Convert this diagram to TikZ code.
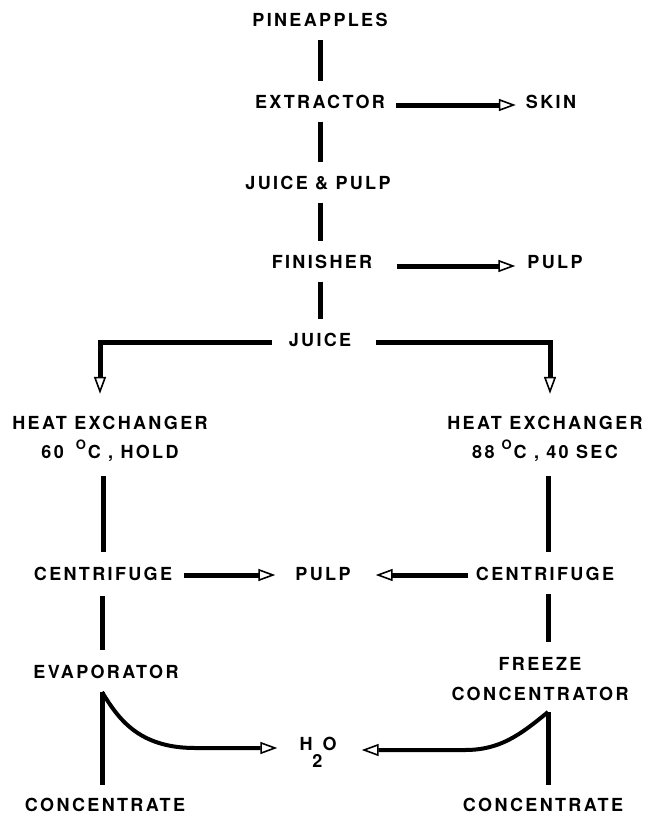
\documentclass[tikz,border=0pt]{standalone}
\usepackage{fontspec}
\setmainfont{TeX Gyre Heros}[LetterSpace=13]
\usetikzlibrary{arrows.meta,calc}
\tikzset{
  flow_t/.style = {inner sep=0pt, font=\fontsize{18}{29}\selectfont\bfseries,
    text height=13pt, text depth=0pt},% one line of text
  flow_m/.style = {inner sep=0pt, align=center,
    font=\fontsize{18}{29.5}\selectfont\bfseries},% two lines of text
  flow_l/.style = {line width=5pt, shorten <=13pt, shorten >=14pt},% plain pipe
  flow_a/.style = {line width=5pt,
    -{Triangle[open, length=17pt, width=12pt, line width=1.6pt 0]}},% stream, open head
  flow_c/.style = {flow_a, line width=4pt}% curved stream
}
\newcommand{\degO}{\raisebox{9pt}{\fontsize{13}{13}\selectfont O}}

\begin{document}
\begin{tikzpicture}[x=1pt, y=-1pt, line join=miter]
\useasboundingbox (0,0) rectangle (648,816);

% main line
\node [flow_t] (pine)  at (320,20)  {PINEAPPLES};
\node [flow_t] (extr)  at (320,102) {EXTRACTOR};
\node [flow_t] (skin)  at (551,102) {SKIN};
\node [flow_t] (jp)    at (318,183) {JUICE \& PULP};
\node [flow_t] (fin)   at (322,262) {FINISHER};
\node [flow_t] (pulpa) at (555,262) {PULP};
\node [flow_t] (juice) at (320,340) {JUICE};

% the two branches
\node [flow_m] (hxl) at (110,439)
  {HEAT EXCHANGER\\60\hspace{12pt}\degO\hspace{2pt}C\ ,\ HOLD};
\node [flow_m] (hxr) at (545,439)
  {HEAT EXCHANGER\\88\hspace{7pt}\degO\hspace{2pt}C\ ,\ 40 SEC};
\node [flow_t] (cfl)   at (103,574) {CENTRIFUGE};
\node [flow_t] (pulpb) at (323,574) {PULP};
\node [flow_t] (cfr)   at (545,574) {CENTRIFUGE};
\node [flow_t] (evap)  at (106,672) {EVAPORATOR};
\node [flow_m] (frz)   at (540,679) {FREEZE\\CONCENTRATOR};
\node [flow_t] (h2o)   at (318,744) {H\raisebox{-17pt}{2}O};
\node [flow_t] (conl)  at (105,805) {CONCENTRATE};
\node [flow_t] (conr)  at (543,805) {CONCENTRATE};

\coordinate (splitl) at (100,342);
\coordinate (splitr) at (550,342);
\coordinate (evc) at (102,692);
\coordinate (fzc) at (548,712);

\draw [flow_l] (pine.south) -- (pine.south |- extr.north);
\draw [flow_l] (extr.south) -- (extr.south |- jp.north);
\draw [flow_l] (extr.south |- jp.south) -- (extr.south |- fin.north);
\draw [flow_l] (extr.south |- fin.south) -- (extr.south |- juice.north);
\draw [flow_a, shorten <=11pt, shorten >=10pt]
  ([yshift=-3pt]extr.east) -- ([yshift=-3pt]skin.west);
\draw [flow_a, shorten <=25pt, shorten >=12pt]
  ([yshift=-4pt]fin.east) -- ([yshift=-4pt]pulpa.west);

\draw [flow_a, shorten <=17pt, shorten >=22pt]
  ([yshift=-2pt]juice.west) -- (splitl) -- (splitl |- hxl.north);
\draw [flow_a, shorten <=25pt, shorten >=22pt]
  ([yshift=-2pt]juice.east) -- (splitr) -- (splitr |- hxr.north);

\draw [flow_l, shorten <=14pt, shorten >=15pt] (hxl.south -| cfl) -- (cfl.north);
\draw [flow_l, shorten <=14pt, shorten >=15pt] (hxr.south -| fzc) -- (cfr.north -| fzc);
\draw [flow_a, shorten <=12pt, shorten >=20pt]
  ([yshift=-1pt]cfl.east) -- ([yshift=-1pt]pulpb.west);
\draw [flow_a, shorten <=8pt, shorten >=25pt]
  ([yshift=-1pt]cfr.west) -- ([yshift=-1pt]pulpb.east);

\draw [flow_l, shorten <=15pt, shorten >=15pt] (cfl.south -| evc) -- (evap.north -| evc);
\draw [flow_l, shorten <=13pt, shorten >=15pt] (cfr.south -| fzc) -- (frz.north -| fzc);

% water off both concentrators
\draw [line width=5pt, shorten >=13pt] (evc) -- (evc |- conl.north);
\draw [line width=5pt, shorten >=13pt] (fzc) -- (fzc |- conr.north);
\draw [flow_c] (evc) .. controls (118,718) and (138,748) .. (195,748)
  -- ($(h2o.west)+(-22,4)$);
\draw [flow_c] (fzc) .. controls (520,735) and (500,750) .. (465,750)
  -- ($(h2o.east)+(25,6)$);
\end{tikzpicture}
\end{document}
